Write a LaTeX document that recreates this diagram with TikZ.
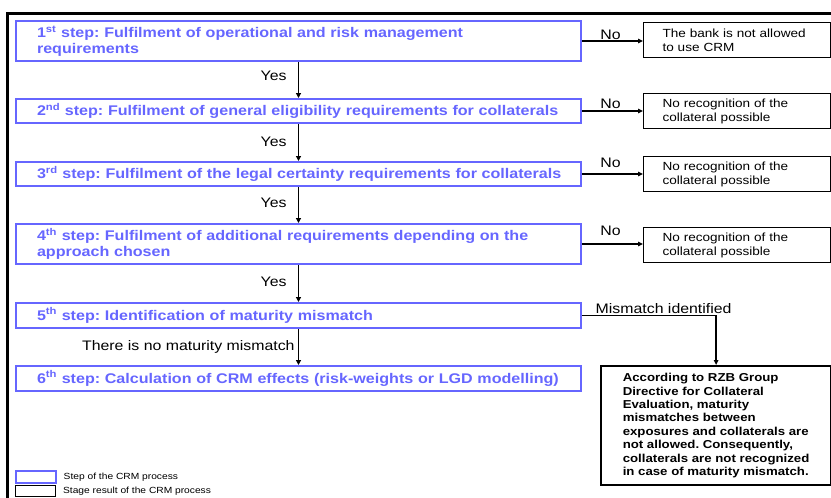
\documentclass[tikz,border=0pt]{standalone}
\usepackage{fontspec}
\setmainfont{Liberation Sans}[FakeStretch=1.15]
\usetikzlibrary{arrows.meta}
\definecolor{stepblue}{RGB}{102,102,255}
\frenchspacing
\hyphenpenalty=10000
\exhyphenpenalty=10000
\begin{document}
\begin{tikzpicture}[x=1pt,y=-1pt,
  stepbox/.style={draw=stepblue,line width=2pt,rectangle,minimum width=565pt,
    text width=523pt,inner xsep=21pt,inner ysep=0pt,align=left,
    font=\fontsize{14}{16}\selectfont\bfseries,text=stepblue,anchor=north west},
  resbox/.style={draw=black,line width=1pt,rectangle,minimum width=187pt,
    text width=149pt,inner xsep=19pt,inner ysep=0pt,align=left,
    font=\fontsize{11.8}{14}\selectfont,anchor=north west},
  flow/.style={line width=1.8pt,-{Triangle[length=5pt,width=5pt]}},
  noarr/.style={line width=1.4pt,-{Triangle[length=5pt,width=4.5pt]}},
  lbl/.style={font=\fontsize{13.8}{15}\selectfont,inner sep=1pt},
  legtext/.style={font=\fontsize{8.9}{10}\selectfont,anchor=west,inner sep=0pt}]
\useasboundingbox (0,0) rectangle (831,498);
% outer frame
\draw[line width=3pt] (7.5,498) -- (7.5,13) -- (831,13);
% step boxes
\node[stepbox,minimum height=40pt] (b1) at (15,20) {\mbox{1\textsuperscript{st} step: Fulfilment of operational and risk management}\\\mbox{requirements}};
\node[stepbox,minimum height=24pt] (b2) at (15,98) {\mbox{2\textsuperscript{nd} step: Fulfilment of general eligibility requirements for collaterals}};
\node[stepbox,minimum height=24pt] (b3) at (15,161) {\mbox{3\textsuperscript{rd} step: Fulfilment of the legal certainty requirements for collaterals}};
\node[stepbox,minimum height=40pt] (b4) at (15,223) {\mbox{4\textsuperscript{th} step: Fulfilment of additional requirements depending on the}\\\mbox{approach chosen}};
\node[stepbox,minimum height=25pt] (b5) at (15,302) {\mbox{5\textsuperscript{th} step: Identification of maturity mismatch}};
\node[stepbox,minimum height=25pt] (b6) at (15,365) {\mbox{6\textsuperscript{th} step: Calculation of CRM effects (risk-weights or LGD modelling)}};
% result boxes
\node[resbox,minimum height=35pt] (r1) at (643,22) {\mbox{The bank is not allowed}\\\mbox{to use CRM}};
\node[resbox,minimum height=35pt] (r2) at (643,93) {\mbox{No recognition of the}\\\mbox{collateral possible}};
\node[resbox,minimum height=35pt] (r3) at (643,156) {\mbox{No recognition of the}\\\mbox{collateral possible}};
\node[resbox,minimum height=35pt] (r4) at (643,227) {\mbox{No recognition of the}\\\mbox{collateral possible}};
\node[draw=black,line width=2.2pt,rectangle,minimum width=230pt,minimum height=119pt,
  inner xsep=14pt,align=left,anchor=north west,
  font=\fontsize{11.5}{13.4}\selectfont\bfseries] (r5) at (600,365)
  {According to RZB Group\\Directive for Collateral\\Evaluation, maturity\\mismatches between\\exposures and collaterals are\\not allowed. Consequently,\\collaterals are not recognized\\in case of maturity mismatch.};
% vertical flow
\draw[flow] (b1.south) -- node[lbl,left,xshift=-10pt,yshift=4pt]{Yes} (b2.north);
\draw[flow] (b2.south) -- node[lbl,left,xshift=-10pt,yshift=1pt]{Yes} (b3.north);
\draw[flow] (b3.south) -- node[lbl,left,xshift=-10pt,yshift=2pt]{Yes} (b4.north);
\draw[flow] (b4.south) -- node[lbl,left,xshift=-10pt,yshift=2pt]{Yes} (b5.north);
\draw[flow] (b5.south) -- node[lbl,left,xshift=-2pt]{There is no maturity mismatch} (b6.north);
% No arrows
\draw[noarr] (b1.east) -- node[lbl,above,xshift=-2pt]{No} (b1.east -| r1.west);
\draw[noarr] (b2.east) -- node[lbl,above,xshift=-2pt,yshift=1pt]{No} (b2.east -| r2.west);
\draw[noarr] (b3.east) -- node[lbl,above,xshift=-2pt,yshift=5pt]{No} (b3.east -| r3.west);
\draw[noarr] (b4.east) -- node[lbl,above,xshift=-2pt,yshift=7pt]{No} (b4.east -| r4.west);
% mismatch
\draw[noarr] (b5.east) -| node[lbl,pos=0,anchor=south west,xshift=12pt]{Mismatch identified} (r5.north);
% legend
\node[draw=stepblue,line width=1.5pt,minimum width=40pt,minimum height=12pt,inner sep=0pt,anchor=north west] (lg1) at (15,470) {};
\node[draw=black,line width=0.9pt,minimum width=40pt,minimum height=11pt,inner sep=0pt,anchor=north west] (lg2) at (15,485) {};
\node[legtext] (lt1) at ([xshift=7pt]lg1.east) {Step of the CRM process};
\node[legtext] (lt2) at ([xshift=7pt]lg2.east) {Stage result of the CRM process};
\end{tikzpicture}
\end{document}
